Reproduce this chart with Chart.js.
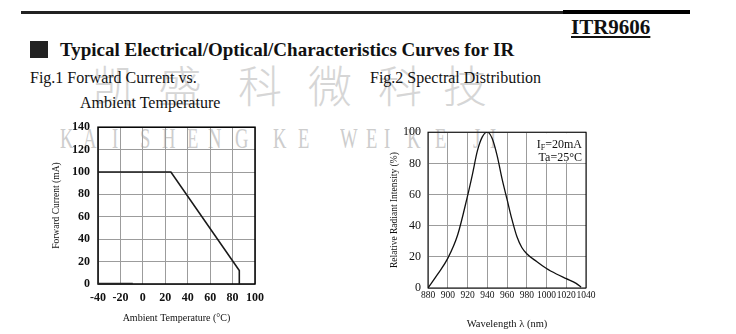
<!DOCTYPE html>
<html>
<head>
<meta charset="utf-8">
<script src="https://cdn.jsdelivr.net/npm/chart.js@4.4.0/dist/chart.umd.min.js"></script>
<style>
body { margin: 0; background: #fff; }
#page { position: relative; width: 736px; height: 334px; overflow: hidden; font-family: 'Liberation Serif', serif; color: #111; }
.txt { position: absolute; white-space: nowrap; z-index: 2; }
canvas { position: absolute; z-index: 2; }
.wm { position: absolute; color: #cdcdcd; white-space: nowrap; pointer-events: none; z-index: 1; }
.wmcn { font-family: 'Noto Sans CJK SC', sans-serif; font-size: 44px; line-height: 44px; top: 62px; color: #d6d6d6; font-weight: 300; }
.wmlat { font-family: 'Liberation Serif', serif; font-size: 30px; line-height: 30px; top: 123px; transform: scaleX(0.62); transform-origin: left top; }
</style>
</head>
<body>
<div id="page">
  <div style="position:absolute;left:21px;top:11px;width:545px;height:3px;background:#222;"></div>
  <div style="position:absolute;left:563px;top:10px;width:127px;height:4px;background:#000;"></div>
  <div class="txt" style="left:571px;top:14px;font-size:21px;line-height:26px;font-weight:bold;text-decoration:underline;">ITR9606</div>
  <div style="position:absolute;left:30px;top:41px;width:18px;height:17px;background:#222;"></div>
  <div class="txt" style="left:60px;top:38px;font-size:19px;line-height:24px;font-weight:bold;">Typical Electrical/Optical/Characteristics Curves for IR</div>
  <div class="txt" style="left:30px;top:68px;font-size:16px;line-height:20px;">Fig.1 Forward Current vs.</div>
  <div class="txt" style="left:80px;top:93px;font-size:16px;line-height:20px;">Ambient Temperature</div>
  <div class="txt" style="left:370px;top:68px;font-size:16px;line-height:20px;">Fig.2 Spectral Distribution</div>

  <canvas id="fig1" width="232" height="220" style="left:40px;top:112px;"></canvas>
  <canvas id="fig2" width="220" height="214" style="left:380px;top:118px;"></canvas>

  <div class="wm wmcn" style="left:92px;">凯</div>
  <div class="wm wmcn" style="left:158px;">盛</div>
  <div class="wm wmcn" style="left:238px;">科</div>
  <div class="wm wmcn" style="left:308px;">微</div>
  <div class="wm wmcn" style="left:378px;">科</div>
  <div class="wm wmcn" style="left:443px;">技</div>
  <div id="wmLetters"></div>
</div>
<script>
// Fig.1 - corriente directa vs temperatura ambiente
const tempC = [-40, 25, 86, 86];
const currentMA = [100, 100, 12, 0];
const baseTempC = [-40, -9];
const baseCurrentMA = [0, 0];
const fig1XTicks = [-40, -20, 0, 20, 40, 60, 80, 100];
const fig1YTicks = [0, 20, 40, 60, 80, 100, 120, 140];

// Fig.2 - distribucion espectral
const wavelengthNm = [880, 890, 900, 910, 920, 925, 930, 935, 940, 945, 950, 955, 960, 965, 970, 975, 980, 990, 1000, 1010, 1020, 1030, 1035];
const intensityPct = [0, 9, 19, 34, 59, 73, 88, 97, 100, 96, 85, 70, 57, 44, 33, 26, 22, 17, 12.5, 9, 6, 3, 0.5];
const fig2XTicks = [880, 900, 920, 940, 960, 980, 1000, 1020, 1040];
const fig2YTicks = [0, 20, 40, 60, 80, 100];

// marca de agua
const letrasMarca = [['K',60],['A',83],['I',112],['S',140],['H',162],['E',187],['N',208],['G',235],['K',273],['E',298],['W',340],['E',366],['I',384],['K',407],['E',435],['J',473],['I',490]];
let htmlMarca = '';
letrasMarca.forEach(l => { htmlMarca += `<div class="wm wmlat" style="left:${l[1]}px;">${l[0]}</div>`; });
document.getElementById('wmLetters').innerHTML = htmlMarca;

const serif = 'Liberation Serif';

// marco negro alrededor del area del grafico
const marco = {
    id: 'marco',
    beforeDatasetsDraw(chart, args, opts) {
        const a = chart.chartArea;
        const ctx = chart.ctx;
        ctx.save();
        ctx.strokeStyle = '#000';
        ctx.lineWidth = opts.width || 1;
        ctx.strokeRect(a.left, a.top, a.right - a.left, a.bottom - a.top);
        ctx.restore();
    }
};

function ejesComunes(xTicks, yTicks, yWidth, xHeight) {
    return {
        x: {
            type: 'linear', min: xTicks[0], max: xTicks[xTicks.length - 1],
            afterBuildTicks: s => { s.ticks = xTicks.map(v => ({ value: v })); },
            afterFit: s => { s.height = xHeight; },
            grid: { color: '#9c9c9c', lineWidth: 1, drawTicks: false },
            border: { display: false },
            ticks: { color: '#111', maxRotation: 0, autoSkip: false, callback: v => String(v) }
        },
        y: {
            type: 'linear', min: yTicks[0], max: yTicks[yTicks.length - 1],
            afterBuildTicks: s => { s.ticks = yTicks.map(v => ({ value: v })); },
            afterFit: s => { s.width = yWidth; },
            grid: { color: '#9c9c9c', lineWidth: 1, drawTicks: false },
            border: { display: false },
            ticks: { color: '#111', callback: v => String(v) }
        }
    };
}

// FIG 1
let esc1 = ejesComunes(fig1XTicks, fig1YTicks, 58, 48);
esc1.x.ticks.font = { family: serif, size: 12, weight: 'bold' };
esc1.x.ticks.padding = 7;
esc1.x.title = { display: true, text: 'Ambient Temperature (°C)', color: '#111', font: { family: serif, size: 10 }, padding: { top: 0, bottom: 8 } };
esc1.y.ticks.font = { family: serif, size: 12, weight: 'bold' };
esc1.y.ticks.padding = 8;
esc1.y.title = { display: true, text: 'Forward Current (mA)', color: '#111', font: { family: serif, size: 9.5 }, padding: { top: 11, bottom: 0 } };

new Chart(document.getElementById('fig1'), {
    type: 'line',
    data: {
        datasets: [
            { data: tempC.map((t, i) => ({ x: t, y: currentMA[i] })), borderColor: '#1a1a1a', borderWidth: 1.6, pointRadius: 0, tension: 0 },
            { data: baseTempC.map((t, i) => ({ x: t, y: baseCurrentMA[i] })), borderColor: '#222', borderWidth: 2.5, pointRadius: 0, tension: 0 }
        ]
    },
    options: {
        responsive: false, animation: false,
        layout: { padding: { top: 15, right: 17, left: 0, bottom: 0 } },
        plugins: { legend: { display: false }, tooltip: { enabled: false }, marco: { width: 1.5 } },
        scales: esc1
    },
    plugins: [marco]
});

// leyenda IF / Ta
const notaFig2 = {
    id: 'notaFig2',
    afterDraw(chart) {
        const ctx = chart.ctx;
        const a = chart.chartArea;
        const x0 = chart.scales.x.getPixelForValue(980) + 2;
        const y1 = chart.scales.y.getPixelForValue(80) - 2;
        ctx.save();
        ctx.fillStyle = '#fff';
        ctx.fillRect(x0, a.top + 1, a.right - 1 - x0, y1 - a.top - 1);
        ctx.fillStyle = '#111';
        ctx.textBaseline = 'alphabetic';
        const derecha = a.right - 4;
        ctx.font = `12px "${serif}"`;
        const wI = ctx.measureText('I').width;
        const wResto = ctx.measureText('=20mA').width;
        ctx.font = `8px "${serif}"`;
        const wF = ctx.measureText('F').width;
        let x = derecha - wI - wF - wResto;
        ctx.font = `12px "${serif}"`;
        ctx.fillText('I', x, a.top + 16);
        ctx.font = `8px "${serif}"`;
        ctx.fillText('F', x + wI, a.top + 18);
        ctx.font = `12px "${serif}"`;
        ctx.fillText('=20mA', x + wI + wF, a.top + 16);
        ctx.textAlign = 'right';
        ctx.fillText('Ta=25°C', derecha, a.top + 29);
        ctx.restore();
    }
};

// FIG 2
let esc2 = ejesComunes(fig2XTicks, fig2YTicks, 48, 44);
esc2.x.ticks.font = { family: serif, size: 9.5 };
esc2.x.ticks.padding = 2;
esc2.x.title = { display: true, text: 'Wavelength λ (nm)', color: '#111', font: { family: serif, size: 10.5 }, padding: { top: 0, bottom: 1 } };
esc2.y.ticks.font = { family: serif, size: 12 };
esc2.y.ticks.padding = 7;
esc2.y.title = { display: true, text: 'Relative Radiant Intensity (%)', color: '#111', font: { family: serif, size: 9.5 }, padding: { top: 9, bottom: 0 } };

new Chart(document.getElementById('fig2'), {
    type: 'line',
    data: {
        datasets: [{
            data: wavelengthNm.map((w, i) => ({ x: w, y: intensityPct[i] })),
            borderColor: '#111', borderWidth: 1.3, pointRadius: 0,
            cubicInterpolationMode: 'monotone'
        }]
    },
    options: {
        responsive: false, animation: false,
        layout: { padding: { top: 14, right: 14, left: 0, bottom: 0 } },
        plugins: { legend: { display: false }, tooltip: { enabled: false }, marco: { width: 1 } },
        scales: esc2
    },
    plugins: [marco, notaFig2]
});
</script>
</body>
</html>
